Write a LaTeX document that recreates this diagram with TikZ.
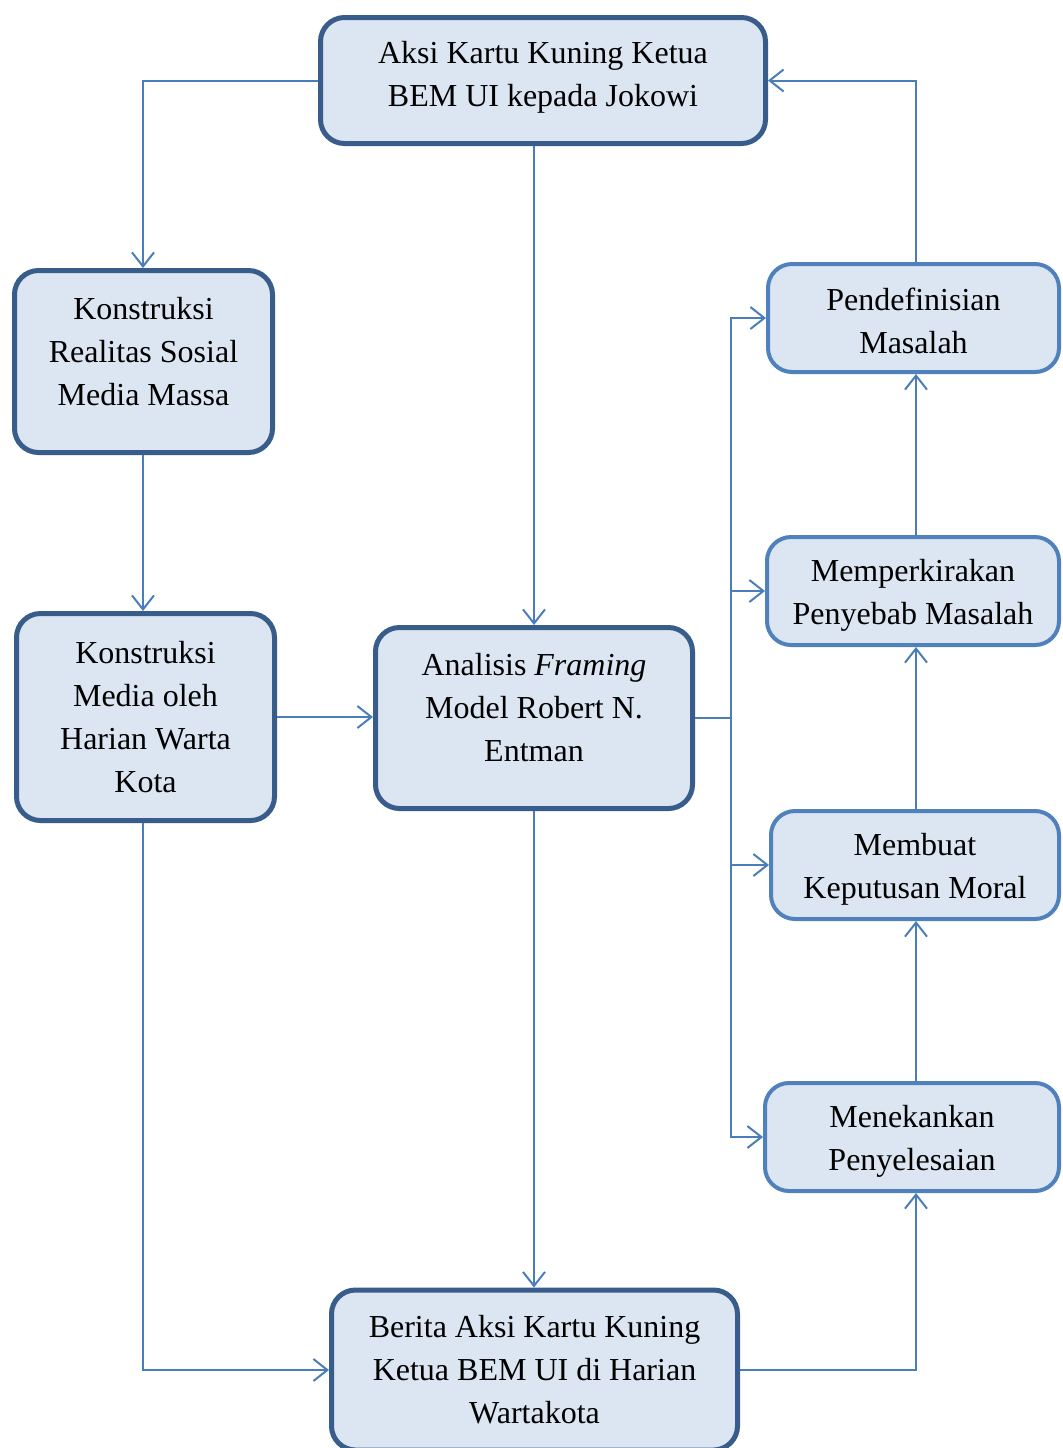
\documentclass[tikz,border=0pt]{standalone}
\usepackage{fontspec}
\setmainfont{Liberation Serif}
\usetikzlibrary{arrows.meta}
\definecolor{boxfill}{HTML}{DCE6F2}
\definecolor{darkborder}{HTML}{385D8A}
\definecolor{lightborder}{HTML}{4F81BD}
\definecolor{linecol}{HTML}{4A7EBB}
\tikzset{
  basebox/.style={rounded corners=12pt, fill=boxfill, align=center, inner sep=0pt,
    font=\fontsize{16pt}{21.5pt}\selectfont},
  darkbox/.style={basebox, draw=darkborder, line width=2.5pt},
  lightbox/.style={basebox, draw=lightborder, line width=2pt},
  conn/.style={draw=linecol, line width=1pt},
  arr/.style={conn, -{Straight Barb[length=7pt,width=11pt,line width=1pt]}}
}
\begin{document}
\begin{tikzpicture}[x=0.5pt,y=-0.5pt]
\clip (0,0) rectangle (1062,1448);
\fill[white] (0,0) rectangle (1062,1448);
% boxes
\node[darkbox, minimum width=222.5pt, minimum height=63pt] (top) at (543,80.5)
  {Aksi Kartu Kuning Ketua\\BEM UI kepada Jokowi\\[-14.5pt]\mbox{}};
\node[darkbox, minimum width=129pt, minimum height=91pt] (kr) at (143.5,361.5)
  {Konstruksi\\Realitas Sosial\\Media Massa\\[-11pt]\mbox{}};
\node[darkbox, minimum width=129pt, minimum height=103.5pt] (km) at (145.5,717)
  {Konstruksi\\Media oleh\\Harian Warta\\Kota};
\node[darkbox, minimum width=158.5pt, minimum height=90.5pt] (an) at (534,718)
  {Analisis \textit{Framing}\\Model Robert N.\\Entman\\[-11pt]\mbox{}};
\node[darkbox, minimum width=203pt, minimum height=80pt] (br) at (534.5,1370)
  {Berita Aksi Kartu Kuning\\Ketua BEM UI di Harian\\Wartakota};
\node[lightbox, minimum width=145.5pt, minimum height=54pt] (pd) at (913.5,318)
  {\rule{0pt}{14pt}Pendefinisian\\Masalah};
\node[lightbox, minimum width=146pt, minimum height=54pt] (mp) at (913,591)
  {\rule{0pt}{15.5pt}Memperkirakan\\Penyebab Masalah};
\node[lightbox, minimum width=144pt, minimum height=54pt] (mb) at (915,865)
  {\rule{0pt}{15.5pt}Membuat\\Keputusan Moral};
\node[lightbox, minimum width=147pt, minimum height=54pt] (mk) at (912,1137)
  {\rule{0pt}{15.5pt}Menekankan\\Penyelesaian};
\coordinate (bus) at ([xshift=18pt]an.east);
\coordinate (col) at (916,0);
\coordinate (lcol) at (143,0);
% connectors
\draw[arr] (top.west) -| (lcol |- kr.north);
\draw[arr] (an.north |- top.south) -- (an.north);
\draw[arr] (lcol |- kr.south) -- (lcol |- km.north);
\draw[arr] (km.east) -- (km.east -| an.west);
\draw[arr] (lcol |- km.south) |- (br.west);
\draw[arr] (an.south) -- (an.south |- br.north);
\draw[conn] (an.east) -- (bus);
\draw[arr] (bus) |- (pd.west);
\draw[arr] (bus) |- (mp.west);
\draw[arr] (bus) |- (mb.west);
\draw[arr] (bus) |- (mk.west);
\draw[arr] (br.east) -| (col |- mk.south);
\draw[arr] (col |- mk.north) -- (col |- mb.south);
\draw[arr] (col |- mb.north) -- (col |- mp.south);
\draw[arr] (col |- mp.north) -- (col |- pd.south);
\draw[arr] (col |- pd.north) |- (top.east);
\end{tikzpicture}
\end{document}
